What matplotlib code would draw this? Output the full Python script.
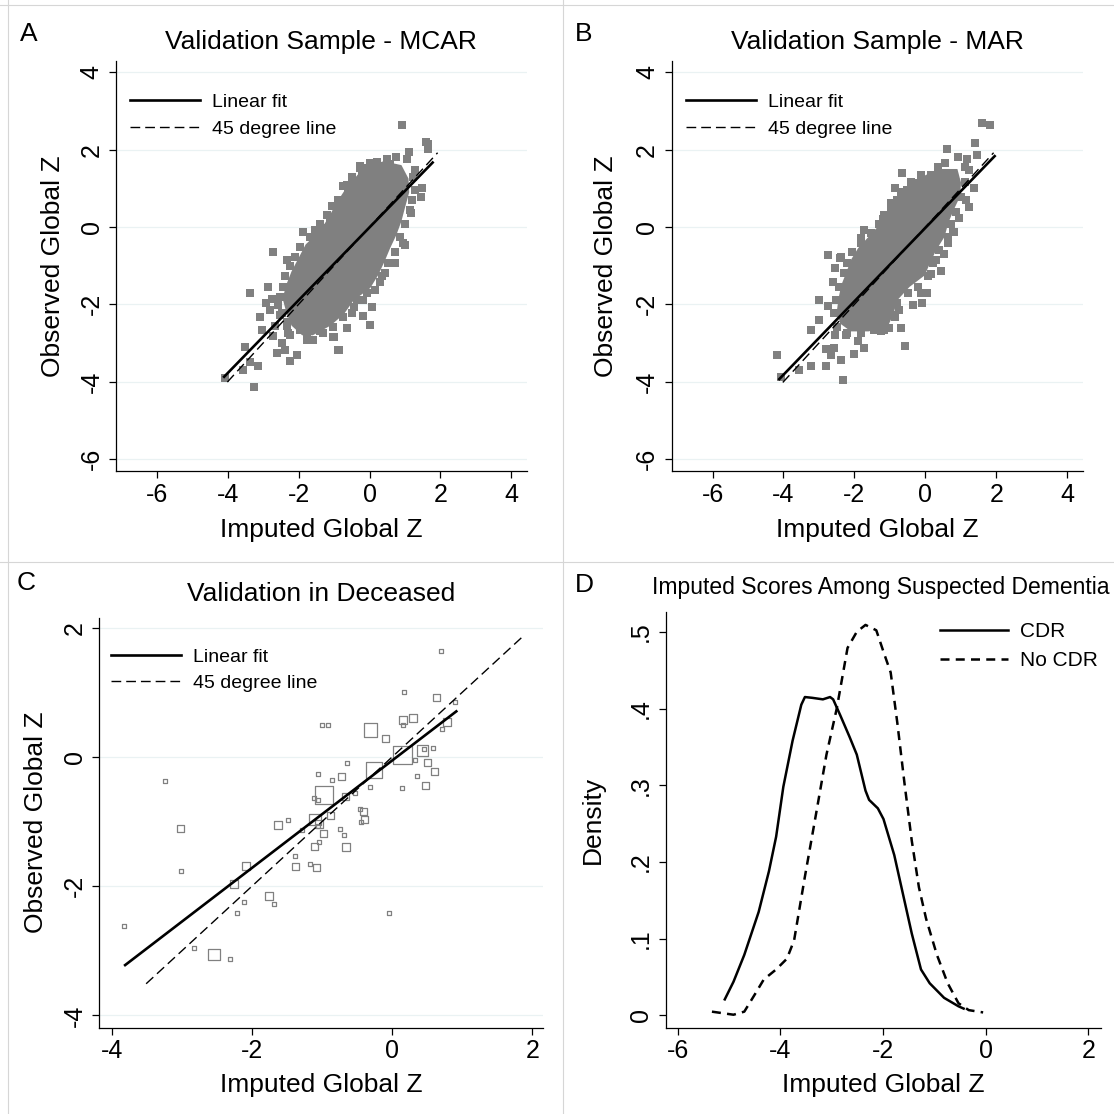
import numpy as np
import matplotlib
matplotlib.use('Agg')
import matplotlib.pyplot as plt
from matplotlib.lines import Line2D

plt.rcParams['font.family'] = ['Liberation Sans', 'DejaVu Sans']
plt.rcParams['axes.unicode_minus'] = False

# ---------------- DATA ----------------
# Panel A (MCAR): scattered squares read off the picture + dense core outline
a_x = [0.91, 1.59, 1.66, 1.64, 1.11, 1.07, 0.75, 0.58, 0.22, -0.27, 1.47, 1.44, -0.74, -0.44,
       -0.22, 1.19, 1.16, 0.94, -1.87, -1.58, -1.35, -1.11, -0.83, -0.93, -0.60, -0.03, 1.28,
       1.24, 1.00, 0.72, 0.44, 0.30, 0.06, 0.01, -0.18, -0.88, -1.02, -0.50, -0.64, -0.36,
       -0.08, -2.71, -2.34, -3.37, -2.85, -3.09, -3.04, -2.92, -2.76, -2.81, -3.51, -3.56,
       -3.37, -3.15, -3.26, -4.08, -2.62, -2.39, -2.24, -2.05, -2.48, -2.71, -2.24, -1.77,
       -1.41, -1.01, -0.87, -2.52, -2.34, -2.67,
       -0.88, -1.07, -1.21, -1.40, -1.54, -1.68, -1.96, -2.10, -2.24, -2.38, -2.43, -2.52,
       -2.57, -2.48, -2.34, -2.29, -1.96, -1.77, -0.64, -0.50, -0.27, 0.01, 0.48,
       1.24, 1.28, 1.14, 1.00, 0.86, 0.72, 0.53, 0.34, 0.16, -0.17, -0.45, -0.74, -1.02,
       -1.30, -1.58]
a_y = [2.64, 2.20, 2.14, 2.01, 1.93, 1.77, 1.82, 1.63, 1.67, 1.58, 1.02, 0.78, 1.06, 1.20,
       1.34, 0.71, 0.35, -0.42, -0.12, -0.29, -0.03, 0.18, 0.70, 0.44, 0.91, 1.52, 1.47,
       1.30, -0.47, -0.94, -1.18, -1.41, -2.08, -2.53, -2.30, -3.18, -2.85, -2.23, -2.62, -1.89,
       -1.71, -0.64, -0.85, -1.70, -1.56, -2.32, -2.66, -1.96, -1.87, -2.14, -3.11, -3.70,
       -3.48, -3.59, -4.13, -3.91, -3.25, -3.18, -3.46, -3.31, -3.01, -2.83, -2.79, -2.92,
       -2.70, -2.85, -3.18, -2.27, -2.57, -2.57,
       0.70, 0.53, 0.31, 0.09, -0.08, -0.25, -0.51, -0.77, -1.02, -1.28, -1.54, -1.80,
       -2.02, -2.23, -2.45, -2.75, -2.66, -2.79, 1.08, 1.30, 1.52, 1.65, 1.77,
       1.30, 0.96, 0.44, 0.09, -0.25, -0.64, -0.94, -1.28, -1.63, -1.89, -2.06, -2.32, -2.58,
       -2.75, -2.92]
core_a_x = [0.90, 1.10, 1.12, 1.00, 0.90, 0.76, 0.58, 0.42, 0.24, 0.02, -0.45, -0.72, -1.10,
            -1.60, -1.90, -2.20, -2.35, -2.45, -2.35, -2.20, -2.00, -1.80, -1.40, -1.15, -0.95,
            -0.70, -0.40, -0.15, 0.40]
core_a_y = [1.60, 1.25, 0.90, 0.50, 0.15, -0.20, -0.55, -0.90, -1.25, -1.58, -1.90, -2.25,
            -2.55, -2.80, -2.80, -2.55, -2.20, -1.85, -1.50, -1.15, -0.80, -0.45, -0.10, 0.25,
            0.60, 0.95, 1.28, 1.55, 1.70]
a_fit = (0.942, -0.01, -4.10, 1.78)      # slope, intercept, x from, x to
a_diag = (-4.01, 1.92)

# Panel B (MAR)
b_x = [1.59, 1.83, 1.40, 0.61, 0.91, 1.16, 1.46, 0.56, 1.24, 1.36, -0.67, -0.85, -0.79, -0.52,
       -0.27, 0.16, 1.24, 1.14, 0.95, -1.73, -1.82, -1.54, -2.39, -1.21, -0.97, 0.81, -2.76,
       -2.40, -2.54, -2.60, -3.00, -2.76, -3.00, -3.23, -4.17, -3.56, -3.23, -2.81, -2.81,
       -2.57, -2.67, -2.38, -2.31, -2.01, -1.89, -1.73, -4.07, -1.26, -1.04, -0.69, -2.24,
       -2.54, -0.85, -0.74, 0.53, 0.44, 0.04, -0.11, -0.36, -0.57, -0.13, 0.16, 0.30, 0.63,
       0.77,
       0.34, -0.13, -0.41, -0.69, -0.97, -1.16, -1.30, -1.54, -1.82, -2.06, -2.20, -2.29,
       -2.43, -2.53, -2.57, -2.48, -2.20, -1.82, -1.44, -1.16,
       1.10, 1.10, 1.00, 0.86, 0.72, 0.63, 0.39, 0.20, 0.06, -0.22, -0.50, -0.79, -0.93]
b_y = [2.70, 2.65, 2.16, 2.01, 1.82, 1.77, 1.86, 1.66, 1.47, 1.02, 1.39, 1.02, 0.71, 0.96,
       1.15, 1.34, 0.51, 0.70, 0.22, -0.08, -0.29, -0.55, -0.77, 0.20, 0.48, -0.12, -0.72,
       -0.81, -1.07, -1.41, -1.89, -2.04, -2.40, -2.66, -3.31, -3.71, -3.59, -3.59, -3.16,
       -3.12, -3.31, -3.45, -3.95, -3.28, -2.96, -3.14, -3.87, -2.70, -2.62, -2.62, -2.79,
       -2.79, -2.32, -2.14, -0.70, -1.13, -1.70, -1.96, -2.02, -3.09, -1.71, -1.21, -0.85,
       -0.42, -0.12,
       1.56, 1.34, 1.17, 0.91, 0.61, 0.31, 0.09, -0.16, -0.42, -0.64, -0.94, -1.20,
       -1.54, -1.89, -2.23, -2.58, -2.75, -2.75, -2.66, -2.66,
       1.56, 1.17, 0.78, 0.40, 0.09, -0.25, -0.59, -0.94, -1.28, -1.54, -1.71, -1.97, -2.27]
core_b_x = [0.90, 1.00, 0.98, 0.80, 0.64, 0.54, 0.30, 0.12, -0.02, -0.45, -0.80, -0.90, -1.05,
            -1.60, -2.10, -2.40, -2.50, -2.45, -2.37, -2.22, -2.10, -1.90, -1.55, -1.20, -1.00,
            -0.70, -0.30, 0.35]
core_b_y = [1.50, 1.15, 0.80, 0.45, 0.10, -0.25, -0.60, -0.95, -1.25, -1.55, -1.90, -2.25,
            -2.55, -2.70, -2.70, -2.50, -2.20, -1.85, -1.50, -1.15, -0.85, -0.55, -0.20, 0.15,
            0.50, 0.85, 1.20, 1.50]
b_fit = (0.95, -0.02, -4.12, 1.95)
b_diag = (-4.02, 1.92)

# Panel C (deceased): imputed, observed, weight
c_x = [0.70, 0.17, 0.64, 0.90, -1.00, -0.91, -0.31, 0.15, 0.30, 0.15, 0.79, 0.71, -0.09, 0.15,
       0.43, 0.46, 0.58, 0.33, 0.51, 0.60, -0.26, -0.65, -1.06, -0.72, -0.86, 0.35, 0.48,
       -0.31, 0.14, -3.24, -0.97, -1.12, -1.05, -0.67, -0.53, -0.46, -0.41, -0.88, -0.39,
       -0.45, -1.48, -1.63, -1.10, -1.04, -1.06, -1.28, -0.75, -0.98, -0.69, -1.04, -1.11,
       -0.66, -1.38, -3.02, -3.01, -2.09, -1.38, -1.17, -1.08, -2.26, -2.12, -2.22, -1.75,
       -1.68, -0.04, -3.82, -2.82, -2.54, -2.31]
c_y = [1.64, 1.00, 0.92, 0.85, 0.50, 0.49, 0.42, 0.57, 0.60, 0.49, 0.54, 0.43, 0.29, 0.03,
       0.10, 0.13, 0.14, -0.04, -0.08, -0.22, -0.20, -0.10, -0.27, -0.30, -0.36, -0.30, -0.44,
       -0.47, -0.48, -0.37, -0.59, -0.64, -0.66, -0.61, -0.56, -0.80, -0.84, -0.90, -0.97,
       -1.00, -0.98, -1.06, -0.97, -1.03, -1.07, -1.13, -1.12, -1.18, -1.20, -1.31, -1.38,
       -1.40, -1.53, -1.10, -1.77, -1.69, -1.69, -1.66, -1.71, -1.96, -2.24, -2.41, -2.15,
       -2.27, -2.41, -2.61, -2.95, -3.06, -3.13]
c_w = [1, 1, 3, 1, 1, 1, 11, 4, 4, 1, 4, 1, 3, 21, 8, 1, 1, 1, 3, 3, 16, 1, 1, 3, 1, 1, 3, 1,
       1, 1, 20, 1, 1, 3, 1, 1, 3, 3, 3, 1, 1, 4, 8, 4, 1, 1, 1, 3, 1, 1, 3, 4, 1, 3, 1, 4, 3,
       1, 3, 4, 1, 1, 4, 1, 1, 1, 1, 8, 1]
c_fit = (0.831, -0.055, -3.81, 0.917)
c_diag = (-3.51, 1.87)

# Panel D: kernel densities of imputed scores
cdr_x = [-5.08, -4.91, -4.70, -4.42, -4.22, -4.08, -3.94, -3.76, -3.59, -3.52, -3.38, -3.17,
         -3.03, -2.97, -2.83, -2.65, -2.51, -2.34, -2.27, -2.10, -1.99, -1.78, -1.61, -1.44,
         -1.26, -1.09, -0.81, -0.53, -0.43]
cdr_y = [0.021, 0.044, 0.079, 0.135, 0.188, 0.233, 0.298, 0.358, 0.405, 0.415, 0.414, 0.412,
         0.415, 0.412, 0.391, 0.363, 0.340, 0.293, 0.281, 0.270, 0.256, 0.209, 0.158, 0.107,
         0.060, 0.042, 0.023, 0.012, 0.009]
nocdr_x = [-5.33, -4.91, -4.70, -4.49, -4.32, -4.08, -3.87, -3.73, -3.52, -3.31, -3.10, -2.90,
           -2.69, -2.51, -2.34, -2.13, -1.99, -1.85, -1.72, -1.58, -1.44, -1.30, -1.16, -0.95,
           -0.74, -0.53, -0.33, -0.05]
nocdr_y = [0.005, 0.001, 0.005, 0.028, 0.047, 0.060, 0.074, 0.098, 0.181, 0.260, 0.340, 0.400,
           0.479, 0.500, 0.509, 0.502, 0.474, 0.447, 0.381, 0.302, 0.228, 0.167, 0.126, 0.079,
           0.042, 0.016, 0.007, 0.004]

# ---------------- LAYOUT ----------------
W = 1114
GRAY = '#808080'
GRID = '#eaf2f3'
fig = plt.figure(figsize=(11.14, 11.14), dpi=100)


def add_axes(l, t, r, b):
    return fig.add_axes([l / W, 1 - b / W, (r - l) / W, (b - t) / W])


def ftext(px, py, s, **kw):
    return fig.text(px / W, 1 - py / W, s, **kw)


def style(ax, xticks, yticks, xlim, ylim, grid=True, ylabels=None):
    ax.set_xlim(*xlim)
    ax.set_ylim(*ylim)
    ax.set_xticks(xticks)
    ax.set_yticks(yticks)
    if ylabels is not None:
        ax.set_yticklabels(ylabels)
    for s in ['top', 'right']:
        ax.spines[s].set_visible(False)
    for s in ['left', 'bottom']:
        ax.spines[s].set_linewidth(0.9)
    ax.tick_params(direction='out', length=5, width=0.9, labelsize=18)
    ax.tick_params(axis='x', pad=3)
    ax.tick_params(axis='y', pad=4, labelrotation=90)
    plt.setp(ax.get_yticklabels(), va='center')
    if grid:
        ax.yaxis.grid(True, color=GRID, lw=0.9)
    ax.set_axisbelow(True)


def fit_panel(ax, fit, diag, loc):
    slope, icpt, x0, x1 = fit
    xs = np.array([x0, x1])
    ax.plot(xs, slope * xs + icpt, color='black', lw=1.9, zorder=4, label='Linear fit')
    ds = np.array(diag)
    ax.plot(ds, ds, color='black', lw=1.0, ls=(0, (7, 3.6)), zorder=4, label='45 degree line')
    ax.legend(loc='upper left', bbox_to_anchor=loc, frameon=False, fontsize=14,
              handlelength=3.6, handletextpad=0.6, labelspacing=0.45,
              borderaxespad=0, borderpad=0)


# Panel A
axA = add_axes(116, 60.7, 526.6, 471.4)
axA.fill(core_a_x, core_a_y, color=GRAY, lw=0, zorder=2)
axA.plot(a_x, a_y, 's', ms=5.2, color=GRAY, mew=0, zorder=2)
fit_panel(axA, a_fit, a_diag, (0.035, 0.92))
style(axA, [-6, -4, -2, 0, 2, 4], [-6, -4, -2, 0, 2, 4], (-7.15, 4.43), (-6.32, 4.30))

# Panel B
axB = add_axes(671.7, 60.7, 1083.4, 471.4)
axB.fill(core_b_x, core_b_y, color=GRAY, lw=0, zorder=2)
axB.plot(b_x, b_y, 's', ms=5.2, color=GRAY, mew=0, zorder=2)
fit_panel(axB, b_fit, b_diag, (0.035, 0.92))
style(axB, [-6, -4, -2, 0, 2, 4], [-6, -4, -2, 0, 2, 4], (-7.15, 4.45), (-6.32, 4.30))

# Panel C
axC = add_axes(99.2, 617.5, 543.4, 1028)
side_pt = 4 * np.sqrt(np.array(c_w)) / 1.389
axC.scatter(c_x, c_y, s=side_pt ** 2, marker='s', facecolors='none',
            edgecolors=GRAY, linewidths=0.9, zorder=2)
fit_panel(axC, c_fit, c_diag, (0.0275, 0.925))
style(axC, [-4, -2, 0, 2], [-4, -2, 0, 2], (-4.18, 2.16), (-4.195, 2.16))

# Panel D
axD = add_axes(665.7, 612.1, 1100.5, 1028)
axD.plot(cdr_x, cdr_y, color='black', lw=1.8, label='CDR')
axD.plot(nocdr_x, nocdr_y, color='black', lw=1.8, ls=(0, (3.6, 2.5)), label='No CDR')
axD.legend(loc='upper left', bbox_to_anchor=(0.63, 0.975), frameon=False, fontsize=15,
           handlelength=3.3, handletextpad=0.55, labelspacing=0.45,
           borderaxespad=0, borderpad=0)
style(axD, [-6, -4, -2, 0, 2], [0, 0.1, 0.2, 0.3, 0.4, 0.5], (-6.23, 2.235), (-0.0163, 0.5257),
      grid=False, ylabels=['0', '.1', '.2', '.3', '.4', '.5'])

# ---------------- TEXT ----------------
ftext(20, 41, 'A', fontsize=19, va='baseline')
ftext(575, 41, 'B', fontsize=19, va='baseline')
ftext(17, 590.5, 'C', fontsize=19, va='baseline')
ftext(575, 592, 'D', fontsize=19, va='baseline')

ftext(321.3, 49.3, 'Validation Sample - MCAR', fontsize=19, ha='center', va='baseline')
ftext(877.5, 49.3, 'Validation Sample - MAR', fontsize=19, ha='center', va='baseline')
ftext(321.3, 600.7, 'Validation in Deceased', fontsize=19, ha='center', va='baseline')
ftext(880.7, 593.6, 'Imputed Scores Among Suspected Dementia', fontsize=16.5, ha='center',
      va='baseline')

ftext(321.3, 536.5, 'Imputed Global Z', fontsize=19, ha='center', va='baseline')
ftext(877.5, 536.5, 'Imputed Global Z', fontsize=19, ha='center', va='baseline')
ftext(321.3, 1092, 'Imputed Global Z', fontsize=19, ha='center', va='baseline')
ftext(883, 1092, 'Imputed Global Z', fontsize=19, ha='center', va='baseline')

ftext(53, 266, 'Observed Global Z', fontsize=19, rotation=90, ha='center', va='center')
ftext(606, 266, 'Observed Global Z', fontsize=19, rotation=90, ha='center', va='center')
ftext(36, 822, 'Observed Global Z', fontsize=19, rotation=90, ha='center', va='center')
ftext(592.5, 820, 'Density', fontsize=19, rotation=90, ha='center', va='center')

# panel frames
for px in [8, 563]:
    fig.add_artist(Line2D([px / W, px / W], [0, 1], color='#d6d6d6', lw=0.8))
for py in [5, 562]:
    fig.add_artist(Line2D([0, 1], [1 - py / W, 1 - py / W], color='#d6d6d6', lw=0.8))

fig.savefig('out.png', dpi=100)
